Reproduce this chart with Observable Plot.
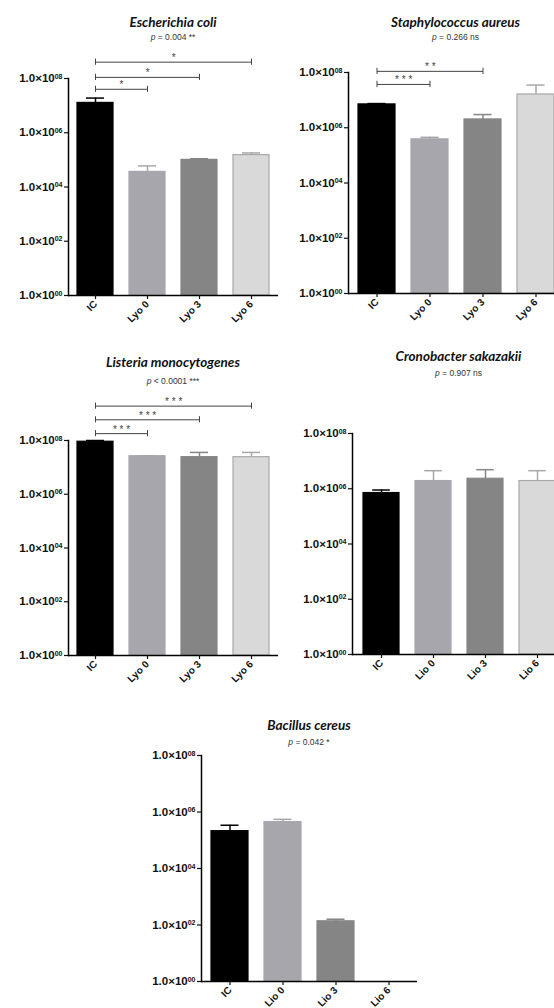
<!DOCTYPE html>
<html><head><meta charset="utf-8">
<script src="https://cdn.jsdelivr.net/npm/d3@7"></script>
<script src="https://cdn.jsdelivr.net/npm/@observablehq/plot@0.6"></script>
<style>
html,body{margin:0;padding:0;background:#fff;}
#fig{position:relative;width:554px;height:1008px;overflow:hidden;background:#fff;}
.title{position:absolute;transform:translate(-50%,-50%);white-space:nowrap;font:italic bold 13.5px Lato,"Open Sans",sans-serif;color:#111;}
.pval{position:absolute;transform:translate(-50%,-50%);white-space:nowrap;font:8.5px "Liberation Sans",Arial,sans-serif;color:#333;}
.panel{position:absolute;}
</style></head>
<body><div id="fig"></div>
<script>
// ---- data ----
const lyoCats = ["IC", "Lyo 0", "Lyo 3", "Lyo 6"];
const lioCats = ["IC", "Lio 0", "Lio 3", "Lio 6"];
const yTicks = [1, 1e2, 1e4, 1e6, 1e8];

const ecoliMean = [1.26e7, 3.6e4, 1.0e5, 1.5e5];
const ecoliErr  = [1.9e7, 6.0e4, 1.1e5, 1.8e5];
const ecoliSig = [
  {from: "IC", to: "Lyo 0", label: "*", level: 4.0e7},
  {from: "IC", to: "Lyo 3", label: "*", level: 1.1e8},
  {from: "IC", to: "Lyo 6", label: "*", level: 4.0e8}
];

const saureusMean = [7.0e6, 3.8e5, 2.0e6, 1.6e7];
const saureusErr  = [7.5e6, 4.5e5, 3.0e6, 3.5e7];
const saureusSig = [
  {from: "IC", to: "Lyo 0", label: "* * *", level: 3.7e7},
  {from: "IC", to: "Lyo 3", label: "* *", level: 1.1e8}
];

const listeriaMean = [9.0e7, 2.6e7, 2.4e7, 2.4e7];
const listeriaErr  = [1.0e8, 2.7e7, 3.6e7, 3.6e7];
const listeriaSig = [
  {from: "IC", to: "Lyo 0", label: "* * *", level: 1.8e8},
  {from: "IC", to: "Lyo 3", label: "* * *", level: 5.9e8},
  {from: "IC", to: "Lyo 6", label: "* * *", level: 1.9e9}
];

const cronoMean = [7.0e5, 1.9e6, 2.3e6, 1.9e6];
const cronoErr  = [9.0e5, 4.5e6, 4.9e6, 4.5e6];

const bacillusMean = [2.1e5, 4.4e5, 1.35e2, 0];
const bacillusErr  = [3.4e5, 5.5e5, 1.6e2, 0];

const titles = ["Escherichia coli", "Staphylococcus aureus", "Listeria monocytogenes", "Cronobacter sakazakii", "Bacillus cereus"];
const pTexts = ["= 0.004 **", "= 0.266 ns", "< 0.0001 ***", "= 0.907 ns", "= 0.042 *"];

// ---- styles ----
const fills   = ["#000000", "#a8a6ad", "#858585", "#d9d9d9"];
const strokes = ["#000000", "#a8a6ad", "#858585", "#a9a9a9"];
const PI = 0.31, PO = 0.17;

const fmt = d => "1.0×10^" + String(Math.round(Math.log10(d))).padStart(2, "0");

const fig = document.getElementById("fig");

function panel(cfg) {
  const {cats, mean, err, sig, title, p, left, axisX, right, yTop, yBottom, titleY, pY} = cfg;
  const svgTop = yTop - 75;
  const marginTop = yTop - svgTop;
  const marginBottom = 60;
  const height = yBottom - svgTop + marginBottom;
  const marginLeft = axisX - left;
  const width = right - left;
  const data = cats.map((c, i) => ({cat: c, value: mean[i], err: err[i], i}));
  const bars = data.filter(d => d.value > 0);
  const step = (right - axisX) / (cats.length - PI + 2 * PO);
  const bw = step * (1 - PI);
  const capInset = (bw - 18) / 2;
  const sigData = (sig || []).map(s => ({...s, mid: (cats.indexOf(s.to) - cats.indexOf(s.from)) * step / 2}));

  const chart = Plot.plot({
    width, height, marginLeft, marginRight: 0, marginTop, marginBottom,
    style: {background: "transparent", overflow: "visible", maxWidth: "none", fontFamily: "'Liberation Sans', Arial, sans-serif", color: "#111"},
    x: {domain: cats, paddingInner: PI, paddingOuter: PO, label: null},
    y: {type: "log", domain: [1, 1e8], label: null},
    color: {type: "identity"},
    marks: [
      Plot.barY(bars, {x: "cat", y1: () => 1, y2: "value", fill: d => fills[d.i], stroke: d => strokes[d.i], strokeWidth: 1.2}),
      Plot.ruleX(bars, {x: "cat", y1: "value", y2: "err", stroke: d => strokes[d.i], strokeWidth: 1.5}),
      Plot.tickY(bars, {x: "cat", y: "err", stroke: d => strokes[d.i], strokeWidth: 1.5, insetLeft: capInset, insetRight: capInset}),
      Plot.link(sigData, {x1: "from", x2: "to", y1: "level", y2: "level", stroke: "#444", strokeWidth: 1}),
      Plot.ruleX(sigData, {x: "from", y1: d => d.level / 1.3, y2: d => d.level * 1.3, stroke: "#444", strokeWidth: 1}),
      Plot.ruleX(sigData, {x: "to", y1: d => d.level / 1.3, y2: d => d.level * 1.3, stroke: "#444", strokeWidth: 1}),
      ...sigData.map(s => Plot.text([s], {x: "from", y: "level", text: "label", dx: s.mid, dy: -1, lineAnchor: "bottom", fontSize: 10, fill: "#444"})),
      Plot.ruleY([1], {stroke: "#000", strokeWidth: 1.5}),
      Plot.frame({anchor: "left", stroke: "#000", strokeWidth: 1.5}),
      Plot.axisY({ticks: yTicks, tickFormat: fmt, tickSize: 4, tickPadding: 2, fontSize: 11.5, fontWeight: "bold", strokeWidth: 1.2}),
      Plot.axisX({tickRotate: -45, tickSize: 4, tickPadding: 3, fontSize: 10, fontWeight: "bold", strokeWidth: 1.2})
    ]
  });
  // render the exponent as a raised, smaller tspan
  d3.select(chart).selectAll('g[aria-label="y-axis tick label"] text').each(function () {
    const s = this.textContent;
    const k = s.indexOf("^");
    if (k < 0) return;
    const sel = d3.select(this);
    sel.text(null);
    sel.append("tspan").text(s.slice(0, k));
    sel.append("tspan").attr("dy", "-0.5em").attr("font-size", "7px").text(s.slice(k + 1));
  });
  const div = document.createElement("div");
  div.className = "panel";
  div.style.left = left + "px";
  div.style.top = svgTop + "px";
  div.style.width = width + "px";
  div.appendChild(chart);
  fig.appendChild(div);

  const cx = (axisX + right) / 2;
  const t = document.createElement("div");
  t.className = "title"; t.textContent = title;
  t.style.left = cx + "px"; t.style.top = titleY + "px";
  fig.appendChild(t);
  const pv = document.createElement("div");
  pv.className = "pval"; pv.innerHTML = "<i>p</i> " + p;
  pv.style.left = cx + "px"; pv.style.top = pY + "px";
  fig.appendChild(pv);
}

panel({cats: lyoCats, mean: ecoliMean, err: ecoliErr, sig: ecoliSig, title: titles[0], p: pTexts[0],
  left: 0, axisX: 68, right: 278, yTop: 78, yBottom: 295, titleY: 22, pY: 37});
panel({cats: lyoCats, mean: saureusMean, err: saureusErr, sig: saureusSig, title: titles[1], p: pTexts[1],
  left: 277, axisX: 348, right: 563, yTop: 72, yBottom: 293, titleY: 22, pY: 37});
panel({cats: lyoCats, mean: listeriaMean, err: listeriaErr, sig: listeriaSig, title: titles[2], p: pTexts[2],
  left: 0, axisX: 68, right: 278, yTop: 440, yBottom: 655, titleY: 362, pY: 381});
panel({cats: lioCats, mean: cronoMean, err: cronoErr, sig: [], title: titles[3], p: pTexts[3],
  left: 277, axisX: 352, right: 565, yTop: 433, yBottom: 654, titleY: 356, pY: 373});
panel({cats: lioCats, mean: bacillusMean, err: bacillusErr, sig: [], title: titles[4], p: pTexts[4],
  left: 140, axisX: 201, right: 417, yTop: 755, yBottom: 981, titleY: 725, pY: 742});
</script>
</body></html>
